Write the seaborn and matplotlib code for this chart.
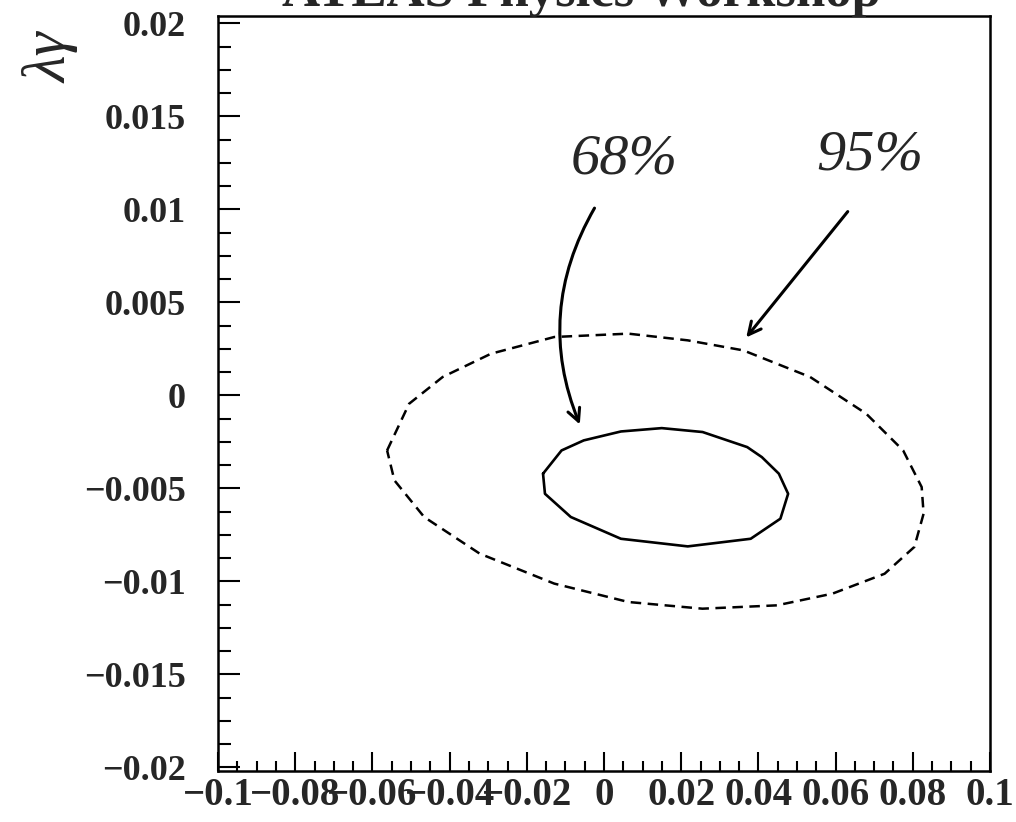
import matplotlib
matplotlib.use('Agg')
import matplotlib.pyplot as plt
import numpy as np
import pandas as pd
import seaborn as sns
from matplotlib.ticker import MultipleLocator, FixedLocator, FixedFormatter

# 68% contour (solid)
c68_x = [-0.0158, -0.0110, -0.00525, 0.00438, 0.01496, 0.02554, 0.0371, 0.0409, 0.0453,
         0.0477, 0.0457, 0.0380, 0.0217, 0.00438, -0.0086, -0.0153, -0.0158]
c68_y = [-0.00421, -0.00296, -0.00242, -0.00194, -0.00176, -0.00197, -0.00278, -0.00332, -0.00421,
         -0.00529, -0.00663, -0.00771, -0.00812, -0.00771, -0.00654, -0.00529, -0.00421]

# 95% contour (dashed)
c95_x = [-0.0562, -0.0505, -0.0418, -0.0293, -0.0129, 0.0063, 0.0217, 0.0361, 0.0534, 0.0679,
         0.0775, 0.0823, 0.0828, 0.0804, 0.0727, 0.0592, 0.0448, 0.0255, 0.0063, -0.0129,
         -0.0322, -0.0466, -0.0543, -0.0562]
c95_y = [-0.00296, -0.00045, 0.00099, 0.00224, 0.00314, 0.00332, 0.00296, 0.00242, 0.00099, -0.00098,
         -0.00296, -0.00493, -0.00636, -0.00815, -0.00959, -0.01066, -0.01129, -0.01147, -0.01111, -0.01012,
         -0.00851, -0.00654, -0.00457, -0.00296]

x_ticks = [-0.1, -0.08, -0.06, -0.04, -0.02, 0, 0.02, 0.04, 0.06, 0.08, 0.1]
x_tick_labels = ['\u22120.1', '\u22120.08', '\u22120.06', '\u22120.04', '\u22120.02', '0',
                 '0.02', '0.04', '0.06', '0.08', '0.1']
y_ticks = [-0.02, -0.015, -0.01, -0.005, 0, 0.005, 0.01, 0.015, 0.02]
y_tick_labels = ['\u22120.02', '\u22120.015', '\u22120.01', '\u22120.005', '0',
                 '0.005', '0.01', '0.015', '0.02']

# hand written notes on the plot
note_labels = ['68%', '95%']
note_x = [0.0052, 0.0688]
note_y = [0.0127, 0.0129]
arrow_start_x = [-0.0021, 0.0636]
arrow_start_y = [0.0102, 0.0100]
arrow_end_x = [-0.0060, 0.0364]
arrow_end_y = [-0.0017, 0.0030]


sns.set_style('ticks')
plt.rcParams['font.family'] = ['Liberation Serif', 'DejaVu Serif']

fig = plt.figure(figsize=(10.16, 8.22), dpi=100)
ax = fig.add_axes([0.2146, 0.062, 0.7598, 0.9185])

df68 = pd.DataFrame({'x': c68_x, 'y': c68_y})
df95 = pd.DataFrame({'x': c95_x, 'y': c95_y})
sns.lineplot(data=df68, x='x', y='y', sort=False, estimator=None, color='black', lw=1.9, ax=ax)
sns.lineplot(data=df95, x='x', y='y', sort=False, estimator=None, color='black', lw=1.8, ax=ax)
ax.lines[1].set_linestyle((0, (4.2, 2.6)))

ax.set_xlim(-0.1, 0.1)
ax.set_ylim(-0.0202, 0.0204)
ax.set_xlabel('')
ax.set_ylabel('')

# ROOT style ticks: inside, left/bottom only
ax.xaxis.set_major_locator(FixedLocator(x_ticks))
ax.xaxis.set_major_formatter(FixedFormatter(x_tick_labels))
ax.xaxis.set_minor_locator(MultipleLocator(0.005))
ax.yaxis.set_major_locator(FixedLocator(y_ticks))
ax.yaxis.set_major_formatter(FixedFormatter(y_tick_labels))
ax.yaxis.set_minor_locator(MultipleLocator(0.00125))
ax.tick_params(axis='both', which='both', direction='in', top=False, right=False, width=1.5, color='black')
ax.tick_params(axis='x', which='major', length=13.5, pad=4, labelsize=28)
ax.tick_params(axis='x', which='minor', length=7)
ax.tick_params(axis='y', which='major', length=16, pad=23, labelsize=26)
ax.tick_params(axis='y', which='minor', length=9)
for lab in ax.get_xticklabels() + ax.get_yticklabels():
    lab.set_fontweight('bold')
for sp in ax.spines.values():
    sp.set_linewidth(1.8)
    sp.set_color('black')

# notes and arrows
for i, txt in enumerate(note_labels):
    ax.text(note_x[i], note_y[i], txt, fontsize=42, style='italic', ha='center', va='center')
ax.annotate('', xy=(arrow_end_x[0], arrow_end_y[0]), xytext=(arrow_start_x[0], arrow_start_y[0]),
            arrowprops=dict(arrowstyle='->,head_length=0.9,head_width=0.45', lw=2.2, color='black',
                            connectionstyle='arc3,rad=0.25'))
ax.annotate('', xy=(arrow_end_x[1], arrow_end_y[1]), xytext=(arrow_start_x[1], arrow_start_y[1]),
            arrowprops=dict(arrowstyle='->,head_length=0.9,head_width=0.45', lw=2.2, color='black'))

# axis name written by hand in the top left corner
fig.text(52 / 1016, 1 - 58 / 822, '\u03bb\u03b3', rotation=90, fontsize=44, style='italic',
         ha='center', va='center')

# title clipped by the top of the scan
fig.text(581 / 1016, 1 - 6 / 822, 'ATLAS Physics Workshop', fontsize=38, fontweight='bold',
         ha='center', va='baseline')

plt.savefig('out.png', dpi=100)
plt.close()
